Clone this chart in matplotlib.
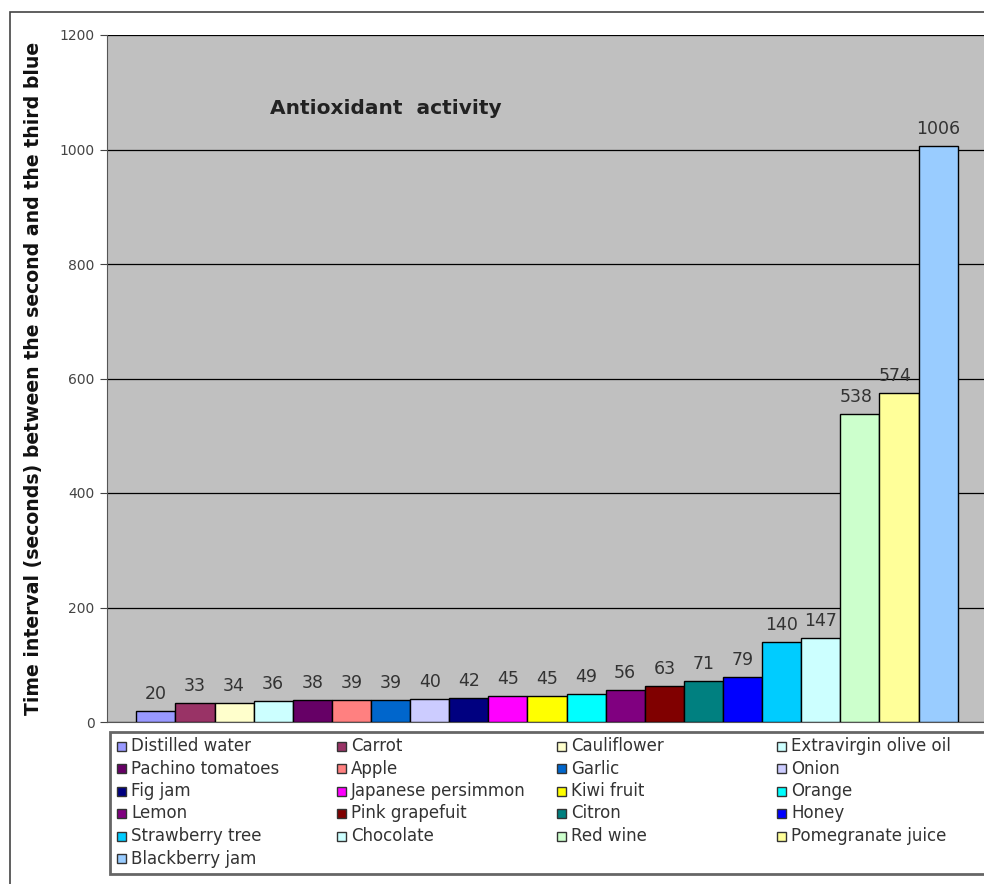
import numpy as np
import matplotlib
matplotlib.use('Agg')
import matplotlib.pyplot as plt
from matplotlib.patches import Rectangle

foods = ['Distilled water', 'Carrot', 'Cauliflower', 'Extravirgin olive oil',
         'Pachino tomatoes', 'Apple', 'Garlic', 'Onion',
         'Fig jam', 'Japanese persimmon', 'Kiwi fruit', 'Orange',
         'Lemon', 'Pink grapefuit', 'Citron', 'Honey',
         'Strawberry tree', 'Chocolate', 'Red wine', 'Pomegranate juice',
         'Blackberry jam']
seconds = [20, 33, 34, 36, 38, 39, 39, 40, 42, 45, 45, 49, 56, 63, 71, 79,
           140, 147, 538, 574, 1006]
colors = ['#9999FF', '#993366', '#FFFFCC', '#CCFFFF', '#660066', '#FF8080',
          '#0066CC', '#CCCCFF', '#000080', '#FF00FF', '#FFFF00', '#00FFFF',
          '#800080', '#800000', '#008080', '#0000FF', '#00CCFF', '#CCFFFF',
          '#CCFFCC', '#FFFF99', '#99CCFF']
yticks = [0, 200, 400, 600, 800, 1000, 1200]

plt.rcParams['font.family'] = ['DejaVu Sans']

W, H = 984, 884
fig = plt.figure(figsize=(W / 100, H / 100), dpi=100)
# outer chart frame
fig.patches.append(Rectangle((10 / W, -0.01), 1.2, (H - 12) / H + 0.01,
                             transform=fig.transFigure, fill=False,
                             edgecolor='#444444', lw=1.2))

ax = fig.add_axes([107 / W, 162 / H, 880 / W, 687 / H])
ax.set_facecolor('#C0C0C0')
x = np.arange(len(seconds))
bars = ax.bar(x, seconds, width=1.0, color=colors, edgecolor='black',
              linewidth=1.0, zorder=3)
for i, v in enumerate(seconds):
    dx = -0.1 if v in (538, 574) else 0
    ax.text(i + dx, v + 14, str(v), ha='center', va='bottom', fontsize=12.5,
            color='#333333')

ax.set_xlim(-1.25, 21.25)
ax.set_ylim(0, 1200)
ax.set_yticks(yticks)
ax.tick_params(axis='y', labelsize=10, colors='#444444', length=5,
               direction='out', pad=4)
ax.set_xticks([])
ax.grid(axis='y', color='black', lw=0.9, zorder=1)
for s in ['top', 'right']:
    ax.spines[s].set_visible(False)
ax.spines['left'].set_color('#555555')
ax.spines['bottom'].set_color('#555555')

ax.text(270 / W, 1 - 108 / H, 'Antioxidant  activity',
        transform=fig.transFigure, ha='left', va='center', fontsize=14.5,
        fontweight='bold', color='#222222')
fig.text(34 / W, 1 - 378 / H,
         'Time interval (seconds) between the second and the third blue',
         rotation=90, ha='center', va='center', fontsize=13.6,
         fontweight='bold', color='#111111')

# legend box, 4 equal columns, filled row by row
fig.patches.append(Rectangle((110 / W, 1 - 874 / H), 1.0, 142 / H,
                             transform=fig.transFigure, facecolor='white',
                             edgecolor='#666666', lw=2))
for k, (name, c) in enumerate(zip(foods, colors)):
    row, col = divmod(k, 4)
    hx = 117 + 220 * col
    yc = 746 + 22.5 * row
    fig.patches.append(Rectangle((hx / W, 1 - (yc + 4.5) / H), 9 / W, 9 / H,
                                 transform=fig.transFigure, facecolor=c,
                                 edgecolor='#333333', lw=1))
    fig.text((hx + 14) / W, 1 - yc / H, name, ha='left', va='center',
             fontsize=12, color='#333333')

fig.savefig('out.png', dpi=100)
